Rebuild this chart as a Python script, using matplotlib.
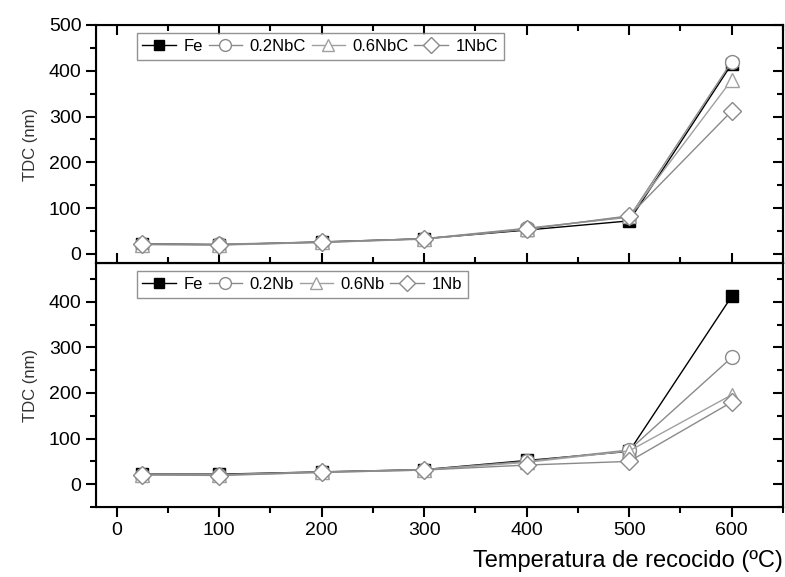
import matplotlib.pyplot as plt
from matplotlib.ticker import MultipleLocator

plt.rcParams['font.family'] = ['Liberation Sans', 'DejaVu Sans']

temp = [25, 100, 200, 300, 400, 500, 600]

# top panel: NbC series
fe_top = [22, 20, 26, 33, 52, 72, 415]
nbc02 = [22, 21, 26, 33, 56, 80, 420]
nbc06 = [20, 19, 25, 32, 54, 82, 380]
nbc1 = [21, 20, 25, 33, 54, 83, 312]

# bottom panel: Nb series
fe_bot = [22, 22, 27, 32, 52, 72, 412]
nb02 = [21, 21, 27, 32, 50, 75, 278]
nb06 = [20, 20, 26, 31, 48, 73, 196]
nb1 = [21, 19, 26, 31, 42, 50, 180]

fig = plt.figure(figsize=(7.85, 5.77), dpi=100)
ax1 = fig.add_axes([0.1223, 0.5442, 0.8752, 0.4125])
ax2 = fig.add_axes([0.1223, 0.1213, 0.8752, 0.4229])

styles = [
    dict(color='black', marker='s', mfc='black', mec='black', ms=8),
    dict(color='#8a8a8a', marker='o', mfc='white', mec='#8a8a8a', ms=10),
    dict(color='#a0a0a0', marker='^', mfc='white', mec='#a0a0a0', ms=10),
    dict(color='#8a8a8a', marker='D', mfc='white', mec='#8a8a8a', ms=9),
]

for ax, series, labels in [
    (ax1, [fe_top, nbc02, nbc06, nbc1], ['Fe', '0.2NbC', '0.6NbC', '1NbC']),
    (ax2, [fe_bot, nb02, nb06, nb1], ['Fe', '0.2Nb', '0.6Nb', '1Nb']),
]:
    for y, lab, st in zip(series, labels, styles):
        ax.plot(temp, y, label=lab, lw=1.0, mew=1.0, **st)
    ax.set_xlim(-20, 650)
    ax.xaxis.set_major_locator(MultipleLocator(100))
    ax.xaxis.set_minor_locator(MultipleLocator(50))
    ax.yaxis.set_major_locator(MultipleLocator(100))
    ax.yaxis.set_minor_locator(MultipleLocator(50))
    ax.set_ylabel('TDC (nm)', fontsize=12, color='#333333', labelpad=8)
    for s in ax.spines.values():
        s.set_linewidth(1.5)
    leg = ax.legend(loc='upper left', ncol=4, fontsize=12, frameon=True, fancybox=False,
                    edgecolor='#777777', handlelength=2.0, handletextpad=0.45,
                    columnspacing=0.35, borderpad=0.35, borderaxespad=0.5,
                    markerscale=0.85, bbox_to_anchor=(0.047, 1.0))
    leg.get_frame().set_linewidth(1.0)

ax1.set_ylim(-20, 500)
ax2.set_ylim(-50, 485)

for ax in (ax1, ax2):
    ax.tick_params(axis='both', which='both', labelsize=14, width=1.5)
    ax.tick_params(which='major', length=7)
    ax.tick_params(which='minor', length=4)
    ax.tick_params(axis='y', which='both', direction='out', right=False)

ax1.tick_params(axis='x', which='both', direction='in', top=True, bottom=True, labelbottom=False)
ax2.tick_params(axis='x', which='both', direction='out', top=False)

# inward right ticks via twin axes
for ax in (ax1, ax2):
    axr = ax.twinx()
    axr.set_ylim(ax.get_ylim())
    axr.yaxis.set_major_locator(MultipleLocator(100))
    axr.yaxis.set_minor_locator(MultipleLocator(50))
    axr.tick_params(axis='y', which='both', direction='in', width=1.5, labelright=False)
    axr.tick_params(which='major', length=7)
    axr.tick_params(which='minor', length=4)
    axr.spines['right'].set_linewidth(1.5)

ax2.set_xlabel('Temperatura de recocido (ºC)', fontsize=17, loc='right', labelpad=8)

fig.savefig('out.png', dpi=100)
